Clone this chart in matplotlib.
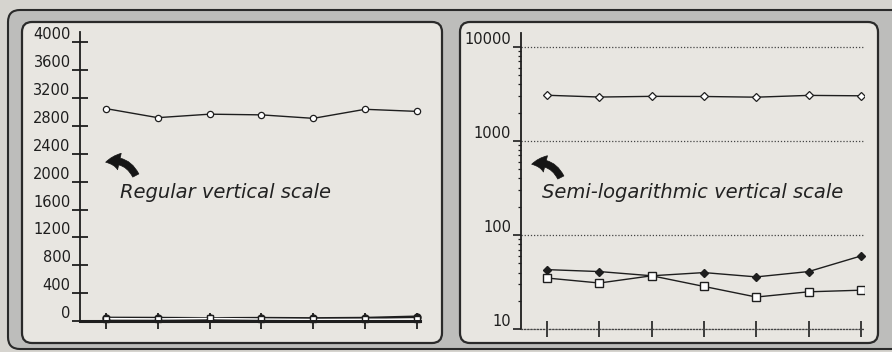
import matplotlib
matplotlib.use("Agg")
import matplotlib.pyplot as plt
from matplotlib.patches import FancyBboxPatch, FancyArrowPatch
from matplotlib.ticker import FixedLocator, LogLocator, NullFormatter

# ---------------- data ----------------
categories = [1, 2, 3, 4, 5, 6, 7]
series_large = [3050, 2920, 2970, 2960, 2910, 3040, 3010]
series_diamond = [43, 41, 37, 40, 36, 41, 60]
series_square = [35, 31, 37, 28.5, 22, 25, 26]

lin_ticks = [0, 400, 800, 1200, 1600, 2000, 2400, 2800, 3200, 3600, 4000]
lin_labels = ["0", "400", "800", "1200", "1600", "2000", "2400", "2800", "3200", "3600", "4000"]
log_ticks = [10, 100, 1000, 10000]
log_labels = ["10", "100", "1000", "10000"]

left_note = "Regular vertical scale"
right_note = "Semi-logarithmic vertical scale"

# ---------------- figure ----------------
W, H = 892, 352
fig = plt.figure(figsize=(W / 100, H / 100), dpi=100)
fig.patch.set_facecolor("#d6d4cf")

bg = fig.add_axes([0, 0, 1, 1], zorder=-1)
bg.set_xlim(0, W)
bg.set_ylim(H, 0)
bg.axis("off")

pattern = "#bdbdbb"
panel = "#e8e6e1"
bg.add_patch(FancyBboxPatch((8, 10), 900, 339, boxstyle="round,pad=0,rounding_size=12",
                            fc=pattern, ec="#2a2a2a", lw=1.5))
bg.add_patch(FancyBboxPatch((22, 22), 420, 321, boxstyle="round,pad=0,rounding_size=10",
                            fc=panel, ec="#2a2a2a", lw=1.6))
bg.add_patch(FancyBboxPatch((460, 22), 418, 321, boxstyle="round,pad=0,rounding_size=10",
                            fc=panel, ec="#2a2a2a", lw=1.6))

x = list(range(len(categories)))
ink = "#1e1e1e"

# ---------------- left panel (linear) ----------------
axL = fig.add_axes([80 / W, 31 / H, 340 / W, 289 / H])
axL.set_facecolor("none")
axL.set_xlim(-0.5, 6.06)
axL.set_ylim(0, 4150)
for s in ["top", "right"]:
    axL.spines[s].set_visible(False)
axL.spines["left"].set_linewidth(1.3)
axL.spines["bottom"].set_linewidth(2.2)
axL.spines["left"].set_color(ink)
axL.spines["bottom"].set_color(ink)
axL.set_xticks(x)
axL.set_xticklabels([])
axL.set_yticks(lin_ticks, lin_labels)
axL.tick_params(axis="both", direction="inout", length=11.5, width=1.3, color=ink, pad=1,
                labelsize=10.5, labelcolor=ink)
for t in axL.get_yticklabels():
    t.set_verticalalignment("bottom")
axL.plot(x, series_large, color=ink, lw=1.0, marker="o", ms=4.5, mfc="white", mec=ink, mew=0.9,
         clip_on=False)
axL.plot(x, series_diamond, color=ink, lw=2.0, marker="o", ms=5, mfc=ink, mec=ink, clip_on=False)
axL.plot(x, series_square, color="white", lw=1.0, marker="s", ms=4, mfc="white", mec=ink,
         clip_on=False)

# ---------------- right panel (log) ----------------
axR = fig.add_axes([521 / W, 22.7 / H, 343 / W, 296.3 / H])
axR.set_facecolor("none")
axR.set_yscale("log")
axR.set_xlim(-0.5, 6.06)
axR.set_ylim(10, 13970)
for s in ["top", "right"]:
    axR.spines[s].set_visible(False)
axR.spines["bottom"].set_linestyle((0, (1, 1.5)))
axR.spines["bottom"].set_linewidth(0.9)
axR.spines["bottom"].set_color("#444444")
axR.spines["left"].set_linewidth(1.3)
axR.spines["left"].set_color(ink)
axR.set_xticks(x)
axR.set_xticklabels([])
axR.tick_params(axis="x", direction="inout", length=11.5, width=1.2, color=ink)
axR.yaxis.set_major_locator(FixedLocator(log_ticks))
axR.set_yticks(log_ticks, log_labels)
axR.yaxis.set_minor_locator(LogLocator(base=10, subs=range(2, 10)))
axR.yaxis.set_minor_formatter(NullFormatter())
axR.tick_params(axis="y", which="major", direction="out", length=6, width=1.2, color=ink, pad=1,
                labelsize=10.5, labelcolor=ink)
axR.tick_params(axis="y", which="minor", direction="out", length=2.5, width=0.9, color=ink)
for t in axR.get_yticklabels():
    t.set_verticalalignment("bottom")
axR.grid(axis="y", which="major", ls=(0, (1, 1.5)), lw=0.9, color="#444444")
axR.plot(x, series_large, color=ink, lw=1.0, marker="D", ms=4, mfc="white", mec=ink, mew=0.9)
axR.plot(x, series_diamond, color=ink, lw=1.0, marker="D", ms=4, mfc=ink, mec=ink, clip_on=False)
axR.plot(x, series_square, color=ink, lw=1.0, marker="s", ms=5.5, mfc="white", mec=ink, mew=1.0)

# ---------------- annotations ----------------
note_font = dict(fontsize=14, style="italic", color="#222222", va="center", ha="left")
bg.text(120, 192, left_note, **note_font)
bg.text(542, 193, right_note, **note_font)

for tail, tip in [((137, 178), (103, 163)), ((562, 180), (529, 165))]:
    arr = FancyArrowPatch(tail, tip,
                          arrowstyle="simple,head_length=0.9,head_width=1.1,tail_width=0.45",
                          connectionstyle="arc3,rad=0.45", lw=0.5, color="#151515",
                          mutation_scale=11)
    bg.add_patch(arr)

fig.savefig("out.png", dpi=100, facecolor=fig.get_facecolor())
